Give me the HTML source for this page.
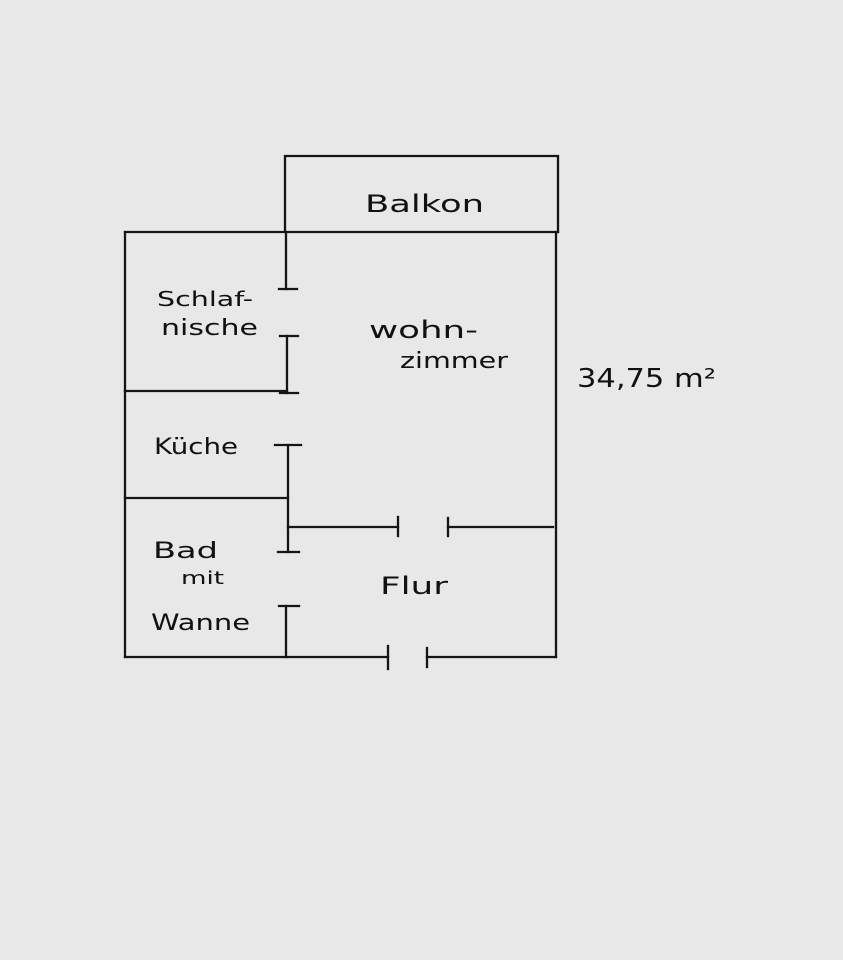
<!DOCTYPE html>
<html><head><meta charset="utf-8"><style>
html,body{margin:0;padding:0;background:#e8e8e8;}
svg{display:block}
text{font-family:"DejaVu Sans","Liberation Sans",sans-serif;fill:#111;}
</style></head><body>
<svg width="843" height="960" viewBox="0 0 843 960" xmlns="http://www.w3.org/2000/svg">
<rect width="843" height="960" fill="#e8e8e8"/>
<g stroke="#151515" stroke-width="2.3" fill="none" stroke-linecap="square">
<polyline points="285,232 285,156 558,156 558,232"/>
<line x1="125" y1="232" x2="558" y2="232"/>
<line x1="125" y1="232" x2="125" y2="657"/>
<line x1="556" y1="232" x2="556" y2="657"/>
<line x1="125" y1="657" x2="388" y2="657"/>
<line x1="427" y1="657" x2="556" y2="657"/>
<line x1="388" y1="646" x2="388" y2="669"/>
<line x1="427" y1="648" x2="427" y2="667"/>
<line x1="286" y1="232" x2="286" y2="289"/>
<line x1="279" y1="289" x2="297" y2="289"/>
<line x1="280" y1="336" x2="298" y2="336"/>
<line x1="287" y1="336" x2="287" y2="393"/>
<line x1="280" y1="393" x2="298" y2="393"/>
<line x1="125" y1="391" x2="287" y2="391"/>
<line x1="275" y1="445" x2="301" y2="445"/>
<line x1="288" y1="445" x2="288" y2="552"/>
<line x1="278" y1="552" x2="299" y2="552"/>
<line x1="125" y1="498" x2="288" y2="498"/>
<line x1="288" y1="527" x2="398" y2="527"/>
<line x1="398" y1="517" x2="398" y2="536"/>
<line x1="448" y1="527" x2="553" y2="527"/>
<line x1="448" y1="518" x2="448" y2="536"/>
<line x1="279" y1="606" x2="299" y2="606"/>
<line x1="286" y1="606" x2="286" y2="657"/>
</g>
<g lengthAdjust="spacingAndGlyphs">
<text x="365" y="212" font-size="24" textLength="119" lengthAdjust="spacingAndGlyphs">Balkon</text>
<text x="157" y="306" font-size="20" textLength="96" lengthAdjust="spacingAndGlyphs">Schlaf-</text>
<text x="161" y="335" font-size="22" textLength="97" lengthAdjust="spacingAndGlyphs">nische</text>
<text x="369" y="338" font-size="24" textLength="109" lengthAdjust="spacingAndGlyphs">wohn-</text>
<text x="400" y="368" font-size="22" textLength="108" lengthAdjust="spacingAndGlyphs">zimmer</text>
<text x="577" y="387" font-size="26" textLength="139" lengthAdjust="spacingAndGlyphs">34,75 m²</text>
<text x="154" y="454" font-size="22" textLength="84" lengthAdjust="spacingAndGlyphs">Küche</text>
<text x="153" y="558" font-size="22" textLength="65" lengthAdjust="spacingAndGlyphs">Bad</text>
<text x="181" y="584" font-size="18" textLength="43" lengthAdjust="spacingAndGlyphs">mit</text>
<text x="151" y="630" font-size="22" textLength="99" lengthAdjust="spacingAndGlyphs">Wanne</text>
<text x="380" y="594" font-size="24" textLength="68" lengthAdjust="spacingAndGlyphs">Flur</text>
</g>
</svg>
</body></html>
